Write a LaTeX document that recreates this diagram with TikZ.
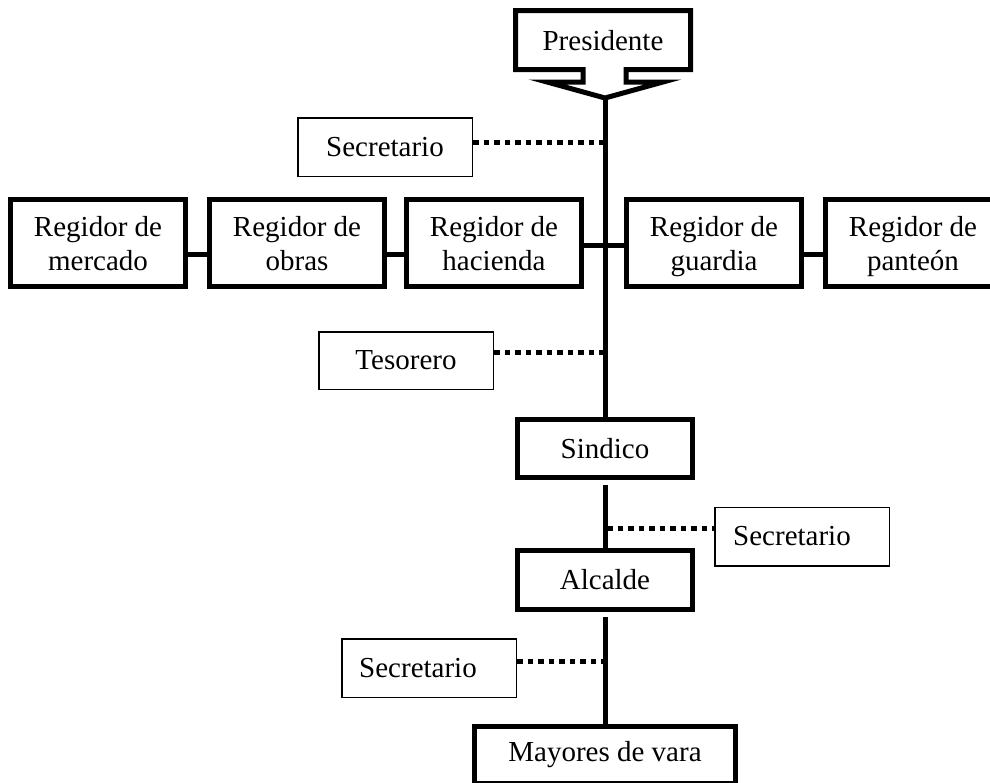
\documentclass[tikz,border=0pt]{standalone}
\usepackage{fontspec}
\setmainfont{Liberation Serif}
\usetikzlibrary{calc}
\newcommand{\rs}{\rule[-6pt]{0pt}{33pt}}
\tikzset{
  txt/.style={font=\fontsize{29}{33}\selectfont},
  thickbox/.style={txt, draw=black, line width=5pt, fill=white, inner sep=0pt, minimum width=175pt, minimum height=58pt, align=center},
  thinbox/.style={txt, draw=black, line width=1.5pt, fill=white, inner sep=0pt, minimum width=174.5pt, minimum height=58.5pt, align=center},
  regbox/.style={thickbox, minimum height=87pt},
  trunk/.style={line width=5pt},
  dotline/.style={line width=5pt, dash pattern=on 5.5pt off 5pt}
}
\begin{document}
\begin{tikzpicture}[x=1pt,y=-1pt]
\useasboundingbox (0,0) rectangle (990,782);
\clip (0,0) rectangle (990,782);

% Presidente callout
\draw[line width=5pt, line join=miter, fill=white]
  (583,69.5) -- (515.5,69.5) -- (515.5,10.5) -- (690.5,10.5) -- (690.5,69.5) -- (626,69.5)
  -- (626,82) -- (663,82) -- (605,98) -- (547,82) -- (583,82) -- cycle;
\node[txt] (pres) at (603,41) {Presidente};
\coordinate (prestip) at (605,98);

% boxes
\node[thinbox] (sec1) at (385,147) {Secretario};
\node[regbox] (r1) at (98,243) {\rs Regidor de\\\rs mercado};
\node[regbox] (r2) at (297,243) {\rs Regidor de\\\rs obras};
\node[regbox] (r3) at (494,243) {\rs Regidor de\\\rs hacienda};
\node[regbox] (r4) at (714,243) {\rs Regidor de\\\rs guardia};
\node[regbox] (r5) at (913,243) {\rs Regidor de\\\rs panteón};
\node[thinbox, minimum height=57.5pt] (tes) at (406,360.5) {Tesorero};
\node[thickbox] (sin) at (605,448.5) {Sindico};
\node[thinbox] (sec2) at (802,536.5) {\hspace*{-20pt}Secretario};
\node[thickbox, minimum height=59pt] (alc) at (605,580) {Alcalde};
\node[thinbox] (sec3) at (429,668) {\hspace*{-22pt}Secretario};
\node[thickbox, minimum width=261pt, minimum height=57pt] (may) at (605,755) {Mayores de vara};

% trunk coordinates
\coordinate (t1) at (603,142);
\coordinate (t2) at (603,352);
\coordinate (t3) at (607,528);
\coordinate (t4) at (603,661);

% trunk
\draw[trunk] (prestip) -- (sin.north);
\draw[trunk, shorten <=5pt] (sin.south) -- (alc.north);
\draw[trunk, shorten <=5pt] (alc.south) -- (may.north);

% regidor connectors
\draw[trunk] ([yshift=-11pt]r1.east) -- ([yshift=-11pt]r2.west);
\draw[trunk] ([yshift=-11pt]r2.east) -- ([yshift=-11pt]r3.west);
\draw[trunk] ([yshift=-2pt]r3.east) -- ([yshift=-2pt]r4.west);
\draw[trunk] ([yshift=-11pt]r4.east) -- ([yshift=-11pt]r5.west);

% dotted connectors
\draw[dotline] ([yshift=5pt]sec1.east) -- (t1);
\draw[dotline] ([yshift=8.5pt]tes.east) -- (t2);
\draw[dotline] (t3) -- ([yshift=8.5pt]sec2.west);
\draw[dotline] ([yshift=7pt]sec3.east) -- (t4);
\end{tikzpicture}
\end{document}
